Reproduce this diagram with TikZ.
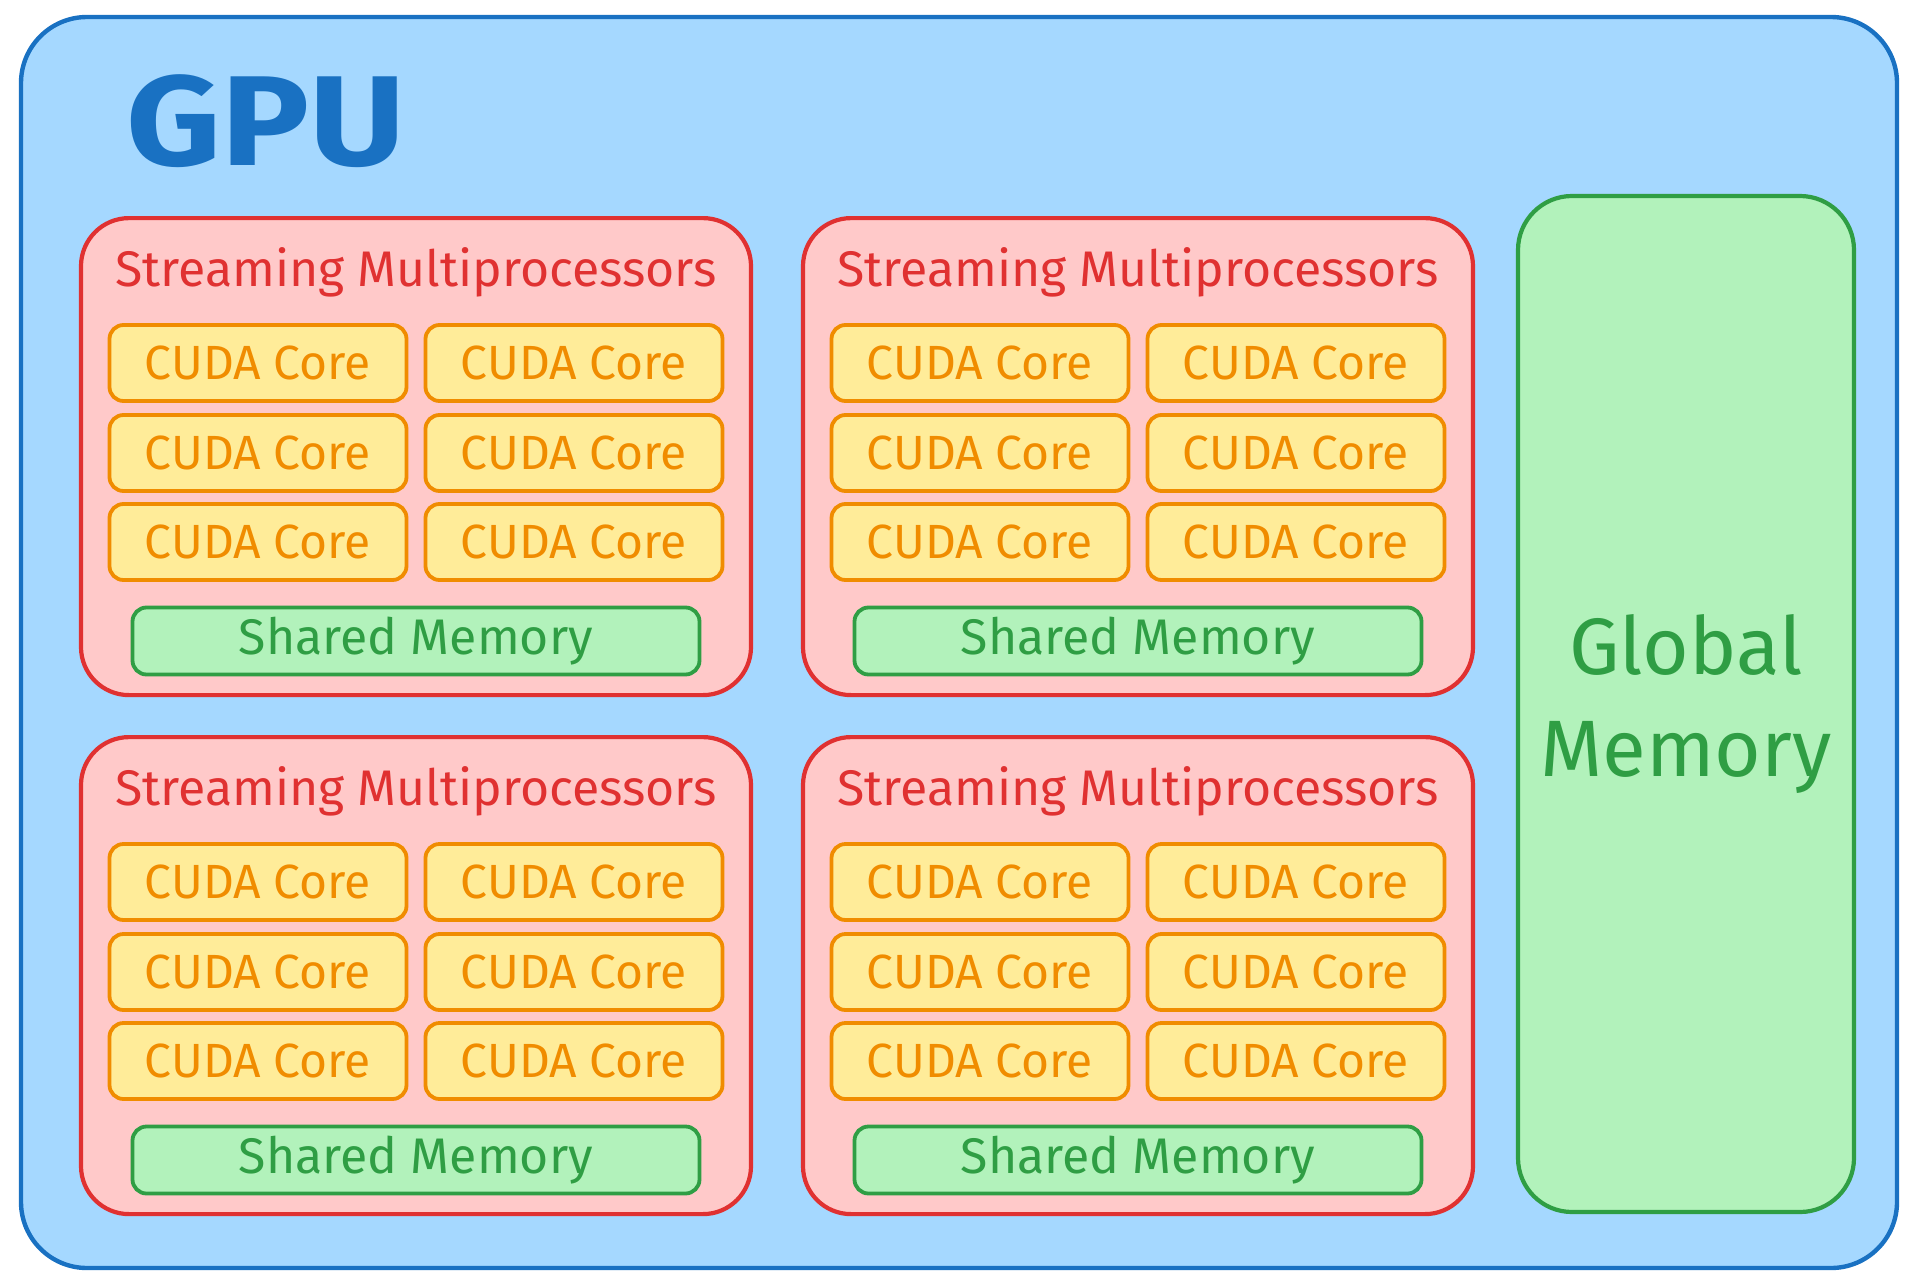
\documentclass[tikz,border=0pt]{standalone}
\usepackage{fontspec}
\setmainfont{Fira Sans}
\usepackage{tikz}

\definecolor{gpublue}{HTML}{1971C2}
\definecolor{gpufill}{HTML}{A5D8FF}
\definecolor{smred}{HTML}{E03131}
\definecolor{smfill}{HTML}{FFC9C9}
\definecolor{coreorange}{HTML}{F08C00}
\definecolor{corefill}{HTML}{FFEC99}
\definecolor{memgreen}{HTML}{2F9E44}
\definecolor{memfill}{HTML}{B2F2BB}

\tikzset{
    gpubox/.style={draw=gpublue, fill=gpufill, line width=2.2pt, rounded corners=33pt,
        minimum width=938pt, minimum height=625.5pt, inner sep=0pt},
    smbox/.style={draw=smred, fill=smfill, line width=2.1pt, rounded corners=24pt,
        minimum width=335pt, minimum height=238.5pt, inner sep=0pt},
    smtitle/.style={text=smred, font=\fontsize{25}{30}\selectfont, inner sep=0pt},
    corebox/.style={draw=coreorange, fill=corefill, line width=1.9pt, rounded corners=7pt,
        minimum width=148.5pt, minimum height=38pt, inner sep=0pt,
        text=coreorange, font=\fontsize{24}{28}\selectfont},
    sharedbox/.style={draw=memgreen, fill=memfill, line width=1.9pt, rounded corners=7pt,
        minimum width=283.5pt, minimum height=33.5pt, inner sep=0pt,
        text=memgreen, font=\fontsize{25}{30}\selectfont},
    globalbox/.style={draw=memgreen, fill=memfill, line width=2.1pt, rounded corners=27pt,
        minimum width=168pt, minimum height=508pt, inner sep=0pt, align=center,
        text=memgreen, font=\fontsize{40}{51}\selectfont}
}

\begin{document}
\begin{tikzpicture}[x=0.5pt, y=-0.5pt]
        \useasboundingbox (0,0) rectangle (1923,1285);

        % outer GPU
        \node[gpubox] (gpu) at (959,642.5) {};
        \node[text=gpublue, font=\fontsize{64}{76}\selectfont\bfseries, inner sep=0pt, xscale=1.15]
            (gpu-label) at (266,121) {GPU};

        % streaming multiprocessors
        \foreach \sx/\sy/\sm in {416/216/smA, 1138/216/smB, 416/735/smC, 1138/735/smD}{
            \node[smbox, anchor=north] (\sm) at (\sx,\sy) {};
            \node[smtitle] (\sm-title) at ([yshift=-28pt]\sm.north) {Streaming Multiprocessors};
            \foreach \r/\dy in {1/73.5, 2/118.5, 3/163}{
                \foreach \c/\dx in {1/-79, 2/79}{
                    \node[corebox] (\sm-core\r\c) at ([xshift=\dx pt, yshift=-\dy pt]\sm.north) {CUDA Core};
                }
            }
            \node[sharedbox] (\sm-shared) at ([yshift=-212.5pt]\sm.north) {Shared Memory};
        }

        % global memory
        \node[globalbox] (global) at (1686,704) {Global\\Memory};
    \end{tikzpicture}
\end{document}
